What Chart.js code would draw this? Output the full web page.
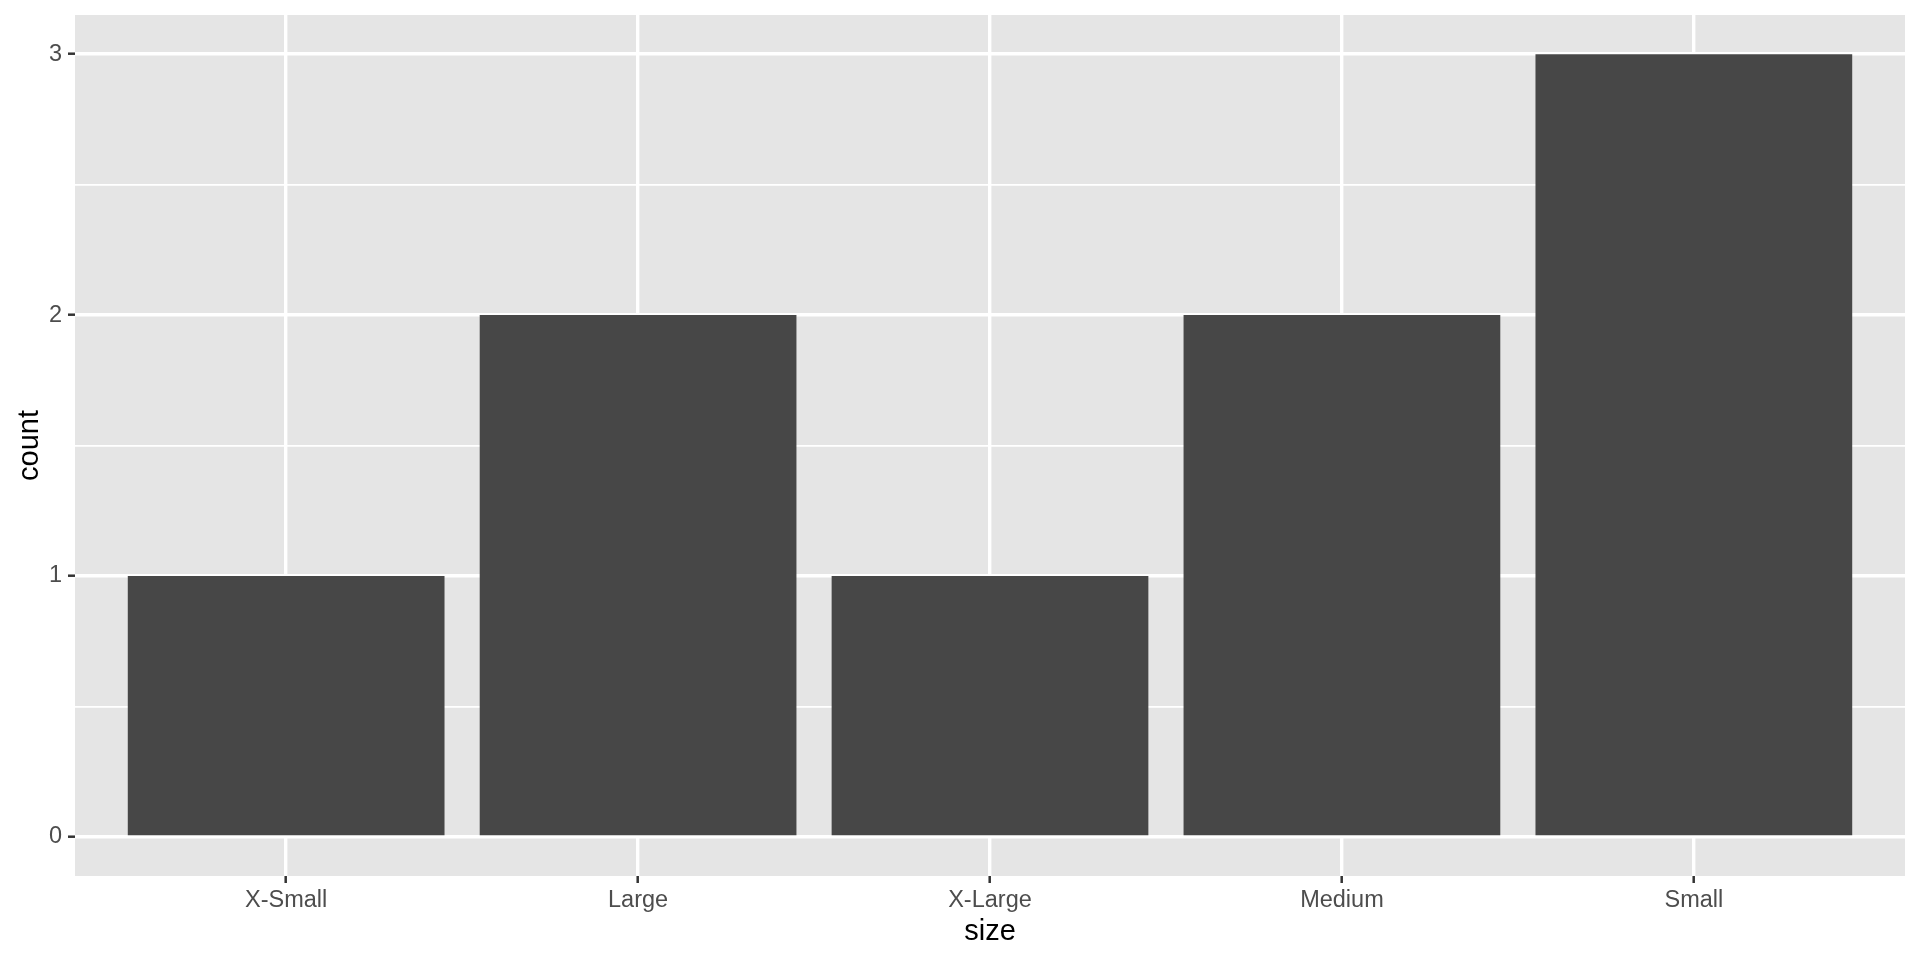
<!DOCTYPE html>
<html>
<head>
<meta charset="utf-8">
<script src="https://cdn.jsdelivr.net/npm/chart.js@4/dist/chart.umd.min.js"></script>
<style>
  html, body { margin: 0; padding: 0; background: #ffffff; }
  #wrap { width: 1920px; height: 960px; }
</style>
</head>
<body>
<div id="wrap"><canvas id="c" width="1920" height="960"></canvas></div>
<script>
const categories = ['X-Small', 'Large', 'X-Large', 'Medium', 'Small'];
const counts = [1, 2, 1, 2, 3];
const yMajorTicks = [0, 1, 2, 3];
const yMinorTicks = [0.5, 1.5, 2.5];
const xTitle = 'size';
const yTitle = 'count';

const FONT = "'Liberation Sans', Arial, Helvetica, sans-serif";
const PANEL_BG = '#E5E5E5';
const BAR = '#474747';

const points = categories.map((c, i) => ({ x: i + 1, y: counts[i] }));
const xPositions = categories.map((c, i) => i + 1);
const yAllTicks = yMajorTicks.concat(yMinorTicks).sort((a, b) => a - b);
const isMajor = v => yMajorTicks.includes(v);

const panelBg = {
  id: 'panelBg',
  beforeDraw(chart) {
    const { ctx, chartArea: a } = chart;
    ctx.save();
    ctx.fillStyle = PANEL_BG;
    ctx.fillRect(a.left, a.top, a.right - a.left, a.bottom - a.top);
    ctx.restore();
  }
};

new Chart(document.getElementById('c'), {
  type: 'bar',
  data: {
    datasets: [{
      data: points,
      backgroundColor: BAR,
      borderWidth: 0,
      barPercentage: 0.9,
      categoryPercentage: 1.0
    }]
  },
  options: {
    responsive: false,
    animation: false,
    devicePixelRatio: 1,
    layout: { padding: { top: 15, right: 15, left: 0, bottom: 0 } },
    plugins: { legend: { display: false }, tooltip: { enabled: false } },
    scales: {
      x: {
        type: 'linear',
        min: 0.4,
        max: 5.6,
        offset: false,
        afterBuildTicks: s => { s.ticks = xPositions.map(v => ({ value: v })); },
        afterFit: s => { s.height = 84; s.paddingLeft = 0; s.paddingRight = 0; },
        border: { display: false },
        grid: {
          offset: false,
          color: '#FFFFFF',
          lineWidth: 3.4,
          drawTicks: true,
          tickLength: 7,
          tickColor: '#333333',
          tickWidth: 2.5
        },
        ticks: {
          autoSkip: false,
          maxRotation: 0,
          padding: 3,
          color: '#4D4D4D',
          font: { family: FONT, size: 23.5 },
          callback: v => categories[Math.round(v) - 1] || ''
        },
        title: {
          display: true,
          text: xTitle,
          color: '#000000',
          font: { family: FONT, size: 29 },
          padding: { top: 0, bottom: 11 }
        }
      },
      y: {
        type: 'linear',
        min: -0.15,
        max: 3.15,
        afterBuildTicks: s => { s.ticks = yAllTicks.map(v => ({ value: v })); },
        afterFit: s => { s.width = 75; s.paddingTop = 0; s.paddingBottom = 0; },
        border: { display: false },
        grid: {
          color: '#FFFFFF',
          lineWidth: ctx => isMajor(ctx.tick.value) ? 3.4 : 1.7,
          drawTicks: true,
          tickLength: 7,
          tickColor: ctx => isMajor(ctx.tick.value) ? '#333333' : 'rgba(0,0,0,0)',
          tickWidth: 2.5
        },
        ticks: {
          autoSkip: false,
          padding: 6,
          color: '#4D4D4D',
          font: { family: FONT, size: 23.5 },
          callback: v => isMajor(v) ? String(v) : ''
        },
        title: {
          display: true,
          text: yTitle,
          color: '#000000',
          font: { family: FONT, size: 29 },
          padding: { top: 13, bottom: 0 }
        }
      }
    }
  },
  plugins: [panelBg]
});
</script>
</body>
</html>
